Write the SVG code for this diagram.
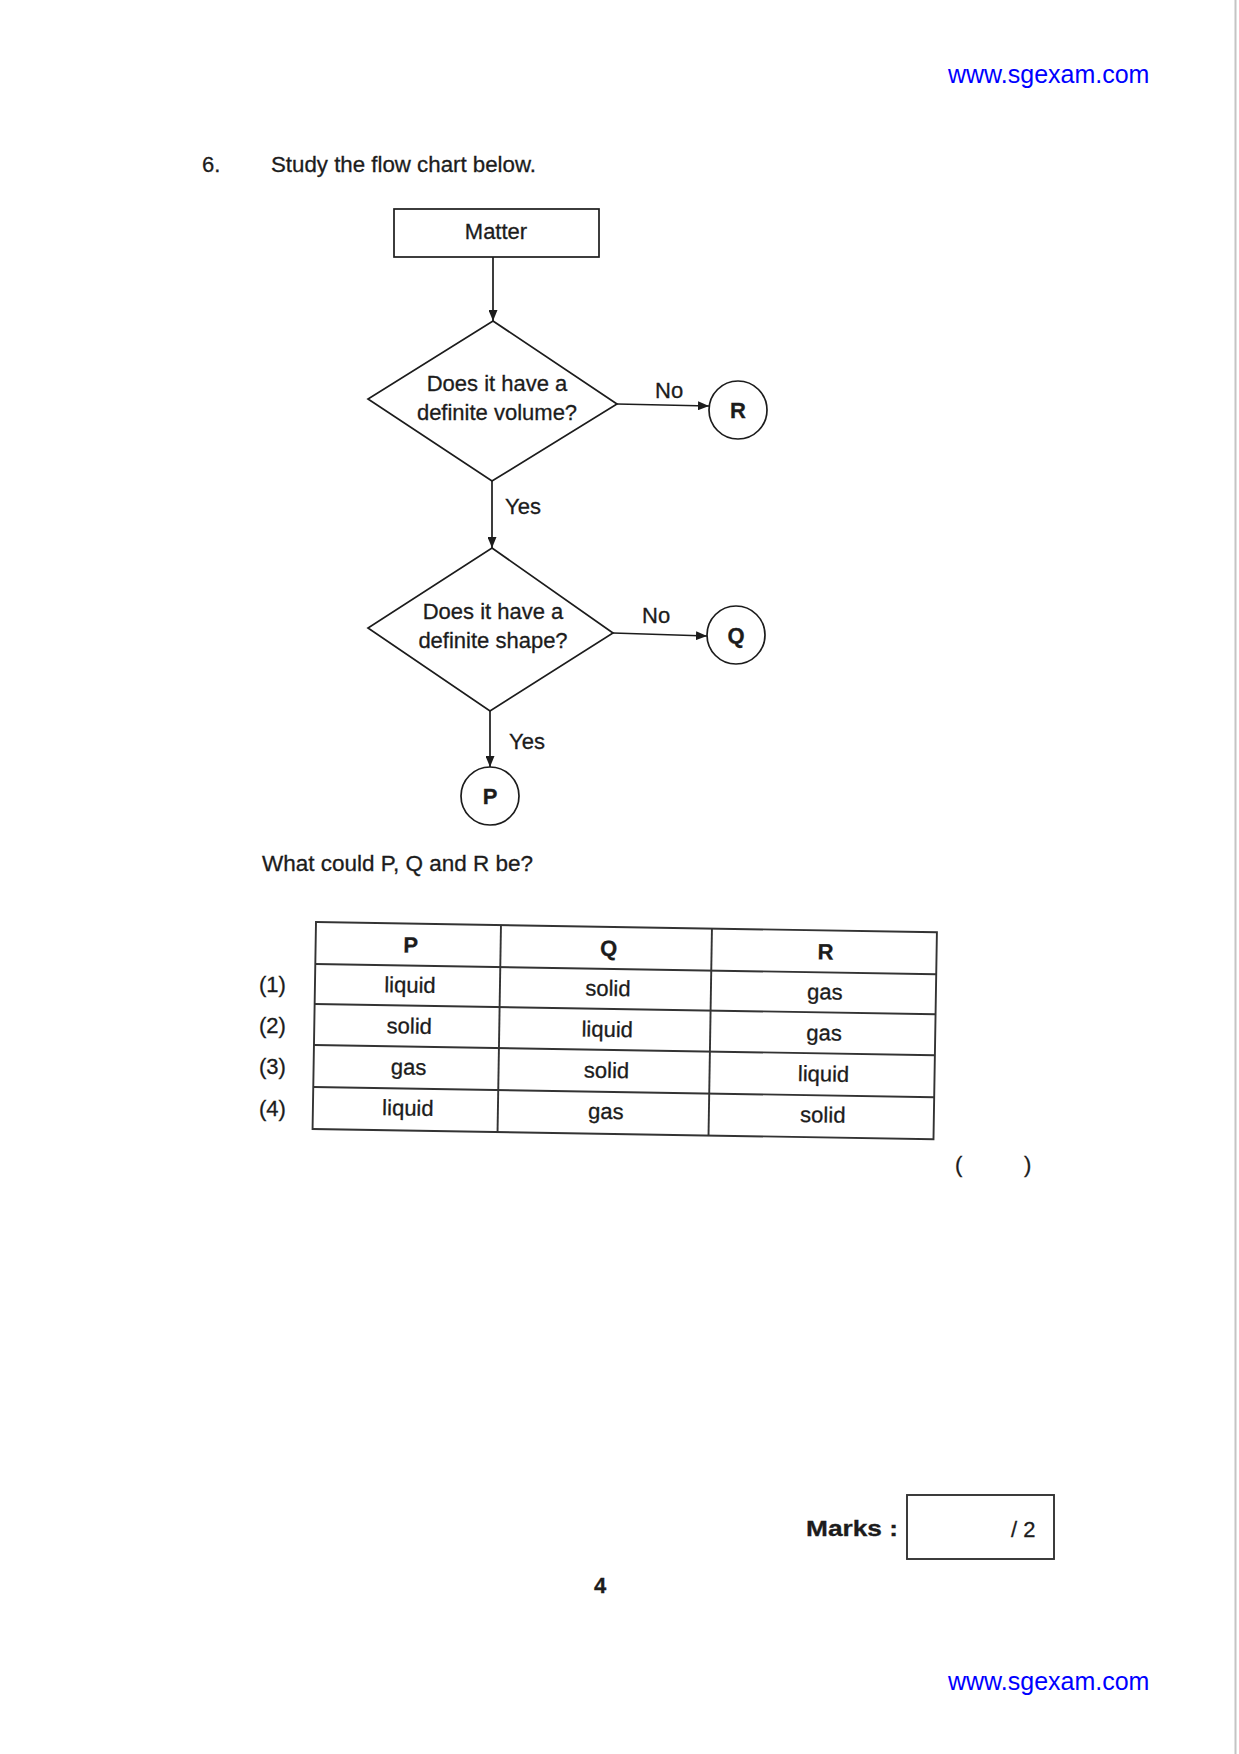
<svg xmlns="http://www.w3.org/2000/svg" width="1239" height="1754" viewBox="0 0 1239 1754">
<style>
text{font-family:"Liberation Sans",Arial,sans-serif;fill:#1c1c1c;font-size:22px;stroke:#1c1c1c;stroke-width:0.3}
.c{text-anchor:middle}
.b{font-weight:bold}
.url{fill:#0000ff;stroke:none;font-size:25px}
.shape{fill:#fff;stroke:#1c1c1c;stroke-width:1.7}
.conn{fill:none;stroke:#1c1c1c;stroke-width:1.7}
.tbl{fill:none;stroke:#333;stroke-width:1.9}
</style>
<defs>
<marker id="ah" markerUnits="userSpaceOnUse" markerWidth="11" markerHeight="9" refX="11" refY="4.5" orient="auto">
<path d="M0,0 L11,4.5 L0,9 z" fill="#1c1c1c"/>
</marker>
</defs>
<rect width="1239" height="1754" fill="#fff"/>
<line x1="1235.5" y1="0" x2="1235.5" y2="1754" stroke="#c4c4c4" stroke-width="2"/>

<text class="url" x="948" y="83">www.sgexam.com</text>
<text class="url" x="948" y="1690">www.sgexam.com</text>

<text x="202" y="172">6.</text>
<text x="271" y="172" textLength="265" lengthAdjust="spacingAndGlyphs">Study the flow chart below.</text>

<g id="connectors">
<line class="conn" x1="493" y1="257" x2="493" y2="321" marker-end="url(#ah)"/>
<line class="conn" x1="617" y1="404" x2="709" y2="406" marker-end="url(#ah)"/>
<line class="conn" x1="492" y1="481" x2="492" y2="548" marker-end="url(#ah)"/>
<line class="conn" x1="613" y1="633" x2="707" y2="636" marker-end="url(#ah)"/>
<line class="conn" x1="490" y1="711" x2="490" y2="767" marker-end="url(#ah)"/>
<text x="655" y="398">No</text>
<text x="505" y="514">Yes</text>
<text x="642" y="623">No</text>
<text x="509" y="749">Yes</text>
</g>

<g id="matter">
<rect class="shape" x="394" y="209" width="205" height="48"/>
<text class="c" x="496" y="239">Matter</text>
</g>

<g id="q-volume">
<polygon class="shape" points="493,321 617,404 492,481 368,399"/>
<text class="c" x="497" y="391">Does it have a</text>
<text class="c" x="497" y="420">definite volume?</text>
</g>

<g id="q-shape">
<polygon class="shape" points="492,548 613,633 490,711 368,628"/>
<text class="c" x="493" y="619">Does it have a</text>
<text class="c" x="493" y="648">definite shape?</text>
</g>

<g id="R">
<circle class="shape" cx="738" cy="410" r="29"/>
<text class="c b" x="738" y="418" font-size="21">R</text>
</g>
<g id="Q">
<circle class="shape" cx="736" cy="635" r="29"/>
<text class="c b" x="736" y="643" font-size="21">Q</text>
</g>
<g id="P">
<circle class="shape" cx="490" cy="796" r="29"/>
<text class="c b" x="490" y="804" font-size="21">P</text>
</g>

<text x="262" y="871" textLength="271" lengthAdjust="spacingAndGlyphs">What could P, Q and R be?</text>

<g id="row-labels">
<text x="259" y="992">(1)</text>
<text x="259" y="1033">(2)</text>
<text x="259" y="1074">(3)</text>
<text x="259" y="1116">(4)</text>
</g>

<g id="table" transform="rotate(0.95 316 922)">
<rect class="tbl" x="316" y="922" width="621" height="207"/>
<line class="tbl" x1="501" y1="922" x2="501" y2="1129"/>
<line class="tbl" x1="712" y1="922" x2="712" y2="1129"/>
<line class="tbl" x1="316" y1="964" x2="937" y2="964"/>
<line class="tbl" x1="316" y1="1004" x2="937" y2="1004"/>
<line class="tbl" x1="316" y1="1045" x2="937" y2="1045"/>
<line class="tbl" x1="316" y1="1087" x2="937" y2="1087"/>
<text class="c b" x="411" y="951" font-size="21">P</text>
<text class="c b" x="609" y="951" font-size="21">Q</text>
<text class="c b" x="826" y="951" font-size="21">R</text>
<text class="c" x="411" y="991">liquid</text>
<text class="c" x="609" y="991">solid</text>
<text class="c" x="826" y="991">gas</text>
<text class="c" x="411" y="1032">solid</text>
<text class="c" x="609" y="1032">liquid</text>
<text class="c" x="826" y="1032">gas</text>
<text class="c" x="411" y="1073">gas</text>
<text class="c" x="609" y="1073">solid</text>
<text class="c" x="826" y="1073">liquid</text>
<text class="c" x="411" y="1114">liquid</text>
<text class="c" x="609" y="1114">gas</text>
<text class="c" x="826" y="1114">solid</text>
</g>

<text x="955" y="1172">(</text>
<text x="1024" y="1172">)</text>

<g id="marks">
<text class="b" x="806" y="1536" font-size="29" textLength="92" lengthAdjust="spacingAndGlyphs">Marks :</text>
<rect x="907" y="1495" width="147" height="64" fill="none" stroke="#333" stroke-width="1.9"/>
<text x="1011" y="1537" font-size="28">/ 2</text>
</g>

<text class="c b" x="600" y="1593" font-size="20">4</text>
</svg>
